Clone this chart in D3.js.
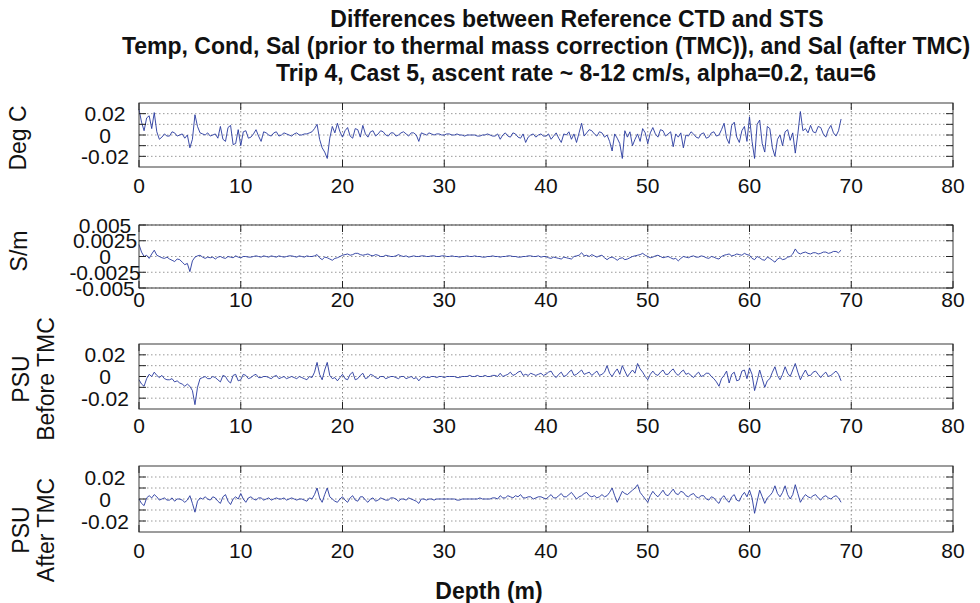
<!DOCTYPE html>
<html lang="en">

<head>
    <title>CTD vs STS differences</title>
    <meta charset="utf-8">
    <script src="https://d3js.org/d3.v7.min.js"></script>
    <style>
        body { margin: 0; background: #fff; }
        svg { display: block; font-family: "Liberation Sans", Arial, sans-serif; }
    </style>
</head>

<body>
    <div id="container1"></div>
    <script>
        // Data (every 0.25 m)
        const depth = [
            0, 0.25, 0.5, 0.75, 1, 1.25, 1.5, 1.75, 2, 2.25, 2.5, 2.75, 3, 3.25, 3.5, 3.75, 4, 4.25, 4.5, 4.75,
            5, 5.25, 5.5, 5.75, 6, 6.25, 6.5, 6.75, 7, 7.25, 7.5, 7.75, 8, 8.25, 8.5, 8.75, 9, 9.25, 9.5, 9.75,
            10, 10.25, 10.5, 10.75, 11, 11.25, 11.5, 11.75, 12, 12.25, 12.5, 12.75, 13, 13.25, 13.5, 13.75, 14, 14.25, 14.5, 14.75,
            15, 15.25, 15.5, 15.75, 16, 16.25, 16.5, 16.75, 17, 17.25, 17.5, 17.75, 18, 18.25, 18.5, 18.75, 19, 19.25, 19.5, 19.75,
            20, 20.25, 20.5, 20.75, 21, 21.25, 21.5, 21.75, 22, 22.25, 22.5, 22.75, 23, 23.25, 23.5, 23.75, 24, 24.25, 24.5, 24.75,
            25, 25.25, 25.5, 25.75, 26, 26.25, 26.5, 26.75, 27, 27.25, 27.5, 27.75, 28, 28.25, 28.5, 28.75, 29, 29.25, 29.5, 29.75,
            30, 30.25, 30.5, 30.75, 31, 31.25, 31.5, 31.75, 32, 32.25, 32.5, 32.75, 33, 33.25, 33.5, 33.75, 34, 34.25, 34.5, 34.75,
            35, 35.25, 35.5, 35.75, 36, 36.25, 36.5, 36.75, 37, 37.25, 37.5, 37.75, 38, 38.25, 38.5, 38.75, 39, 39.25, 39.5, 39.75,
            40, 40.25, 40.5, 40.75, 41, 41.25, 41.5, 41.75, 42, 42.25, 42.5, 42.75, 43, 43.25, 43.5, 43.75, 44, 44.25, 44.5, 44.75,
            45, 45.25, 45.5, 45.75, 46, 46.25, 46.5, 46.75, 47, 47.25, 47.5, 47.75, 48, 48.25, 48.5, 48.75, 49, 49.25, 49.5, 49.75,
            50, 50.25, 50.5, 50.75, 51, 51.25, 51.5, 51.75, 52, 52.25, 52.5, 52.75, 53, 53.25, 53.5, 53.75, 54, 54.25, 54.5, 54.75,
            55, 55.25, 55.5, 55.75, 56, 56.25, 56.5, 56.75, 57, 57.25, 57.5, 57.75, 58, 58.25, 58.5, 58.75, 59, 59.25, 59.5, 59.75,
            60, 60.25, 60.5, 60.75, 61, 61.25, 61.5, 61.75, 62, 62.25, 62.5, 62.75, 63, 63.25, 63.5, 63.75, 64, 64.25, 64.5, 64.75,
            65, 65.25, 65.5, 65.75, 66, 66.25, 66.5, 66.75, 67, 67.25, 67.5, 67.75, 68, 68.25, 68.5, 68.75, 69
        ];

        const tempDiff = [
            0.024, 0.012, 0.004, 0.016, 0.018, 0.006, 0.021, 0.003, -0.004, -0.002, 0.001, -0.001, -0.001, 0.003, 0.002, -0.001, 0.000, 0.001, -0.003, 0.000,
            -0.012, -0.004, 0.019, 0.008, 0.002, 0.001, 0.000, 0.002, -0.001, 0.000, 0.001, -0.003, 0.008, -0.004, -0.006, 0.007, 0.009, -0.009, -0.008, 0.005,
            -0.010, 0.003, 0.004, -0.003, -0.002, 0.001, 0.005, -0.001, -0.006, 0.003, 0.002, 0.000, -0.001, 0.002, 0.003, -0.001, 0.000, 0.002, 0.001, 0.000,
            -0.001, 0.001, 0.002, 0.000, 0.000, 0.001, 0.001, 0.002, 0.003, 0.006, 0.010, -0.004, -0.012, -0.016, -0.022, -0.003, 0.008, 0.002, 0.011, 0.003,
            -0.002, 0.004, 0.007, -0.001, -0.003, 0.006, 0.005, -0.002, 0.009, 0.001, -0.002, 0.003, 0.004, -0.001, 0.001, 0.004, 0.003, 0.000, -0.001, 0.002,
            0.002, -0.001, 0.000, 0.002, 0.003, 0.001, -0.001, 0.002, 0.002, 0.000, -0.006, 0.002, 0.001, 0.000, 0.002, 0.001, 0.000, 0.001, 0.001, 0.000,
            0.000, 0.001, 0.001, 0.000, 0.000, 0.001, 0.000, 0.000, -0.001, 0.000, 0.000, 0.000, 0.000, -0.001, -0.001, 0.000, 0.000, 0.001, 0.000, -0.001,
            -0.001, 0.001, -0.004, 0.000, 0.002, -0.001, -0.002, 0.002, 0.001, -0.002, -0.003, 0.001, -0.007, -0.002, 0.000, 0.001, -0.002, 0.000, 0.001, -0.001,
            -0.001, 0.001, -0.004, -0.001, 0.002, -0.003, -0.007, 0.001, 0.000, 0.003, -0.004, 0.001, -0.007, 0.002, 0.011, -0.001, 0.002, 0.005, 0.004, 0.001,
            -0.001, 0.003, 0.002, -0.002, 0.000, -0.006, -0.015, 0.001, -0.003, -0.008, -0.022, 0.004, -0.002, 0.003, -0.010, -0.004, 0.001, -0.006, 0.006, 0.002,
            -0.008, 0.002, 0.007, 0.001, -0.002, 0.005, 0.004, -0.001, 0.001, 0.003, -0.011, 0.001, -0.002, 0.002, -0.012, 0.000, -0.001, 0.003, 0.001, -0.002,
            -0.003, 0.001, 0.002, -0.003, -0.002, 0.002, 0.003, -0.001, 0.000, 0.005, 0.011, -0.003, -0.008, 0.009, 0.012, -0.002, -0.007, 0.004, 0.008, -0.006,
            0.017, -0.006, -0.022, 0.010, 0.014, -0.008, -0.016, 0.008, 0.006, -0.012, -0.020, -0.004, 0.000, -0.010, 0.003, 0.005, -0.005, 0.002, -0.017, 0.001,
            0.022, 0.004, 0.006, 0.002, 0.009, 0.003, 0.002, 0.008, 0.007, 0.001, -0.002, 0.005, 0.009, 0.002, -0.001, 0.004, 0.015
        ];

        const condDiff = [
            0.0019, 0.0007, 0.0000, 0.0002, -0.0003, 0.0004, 0.0010, 0.0002, 0.0000, -0.0002, -0.0003, -0.0001, -0.0004, -0.0006, -0.0008, -0.0004, -0.0005, -0.0009, -0.0013, -0.0011,
            -0.0024, -0.0007, -0.0001, 0.0001, 0.0002, -0.0001, -0.0003, -0.0001, -0.0002, -0.0001, -0.0004, -0.0001, 0.0000, -0.0002, -0.0003, 0.0000, -0.0001, -0.0002, 0.0001, -0.0001,
            -0.0002, 0.0000, 0.0000, -0.0001, -0.0001, 0.0000, 0.0001, 0.0000, -0.0001, 0.0001, 0.0000, -0.0001, 0.0001, 0.0000, -0.0001, 0.0001, 0.0000, -0.0001, 0.0000, 0.0001,
            0.0001, 0.0000, -0.0001, 0.0001, 0.0000, -0.0001, 0.0001, 0.0000, 0.0000, 0.0001, 0.0003, -0.0002, -0.0005, -0.0001, -0.0002, -0.0004, -0.0006, -0.0003, -0.0002, 0.0000,
            0.0002, 0.0003, 0.0004, 0.0002, 0.0003, 0.0005, 0.0005, 0.0003, 0.0002, 0.0003, 0.0004, 0.0002, 0.0001, 0.0003, 0.0002, 0.0000, 0.0000, 0.0002, 0.0001, 0.0000,
            0.0000, 0.0001, 0.0003, 0.0001, 0.0000, 0.0001, -0.0001, 0.0000, 0.0001, 0.0000, 0.0000, 0.0001, 0.0001, 0.0000, 0.0000, 0.0001, 0.0001, 0.0000, 0.0000, 0.0001,
            0.0001, 0.0000, 0.0000, 0.0001, 0.0000, 0.0000, -0.0001, 0.0000, 0.0000, 0.0001, 0.0000, 0.0000, 0.0001, 0.0000, 0.0000, -0.0001, -0.0001, 0.0000, 0.0000, 0.0001,
            0.0000, 0.0000, -0.0001, 0.0000, 0.0000, 0.0001, 0.0001, 0.0000, 0.0000, -0.0001, -0.0001, 0.0000, 0.0000, 0.0001, 0.0001, 0.0000, 0.0000, 0.0001, -0.0001, 0.0000,
            0.0000, -0.0002, -0.0003, -0.0001, -0.0002, -0.0003, -0.0004, -0.0001, -0.0002, -0.0003, -0.0004, 0.0000, 0.0001, 0.0002, 0.0006, 0.0001, 0.0002, 0.0000, 0.0003, 0.0001,
            -0.0001, 0.0001, 0.0002, -0.0002, -0.0005, -0.0002, -0.0001, -0.0003, -0.0006, -0.0003, -0.0002, -0.0005, -0.0004, -0.0002, 0.0000, 0.0001, 0.0002, 0.0003, 0.0005, 0.0002,
            0.0000, -0.0002, -0.0001, 0.0001, 0.0002, 0.0000, -0.0002, -0.0001, 0.0000, -0.0002, -0.0004, -0.0003, -0.0007, -0.0003, 0.0000, -0.0001, -0.0002, 0.0000, 0.0001, -0.0001,
            -0.0001, 0.0001, 0.0000, -0.0002, -0.0003, 0.0000, -0.0001, -0.0003, -0.0004, 0.0000, 0.0002, 0.0003, 0.0004, 0.0001, 0.0002, 0.0004, 0.0003, 0.0002, 0.0005, 0.0003,
            0.0002, -0.0003, -0.0005, 0.0000, -0.0002, -0.0005, -0.0006, -0.0001, -0.0003, -0.0006, -0.0009, -0.0004, -0.0002, -0.0005, -0.0004, -0.0001, 0.0000, 0.0004, 0.0012, 0.0006,
            0.0004, 0.0006, 0.0007, 0.0005, 0.0004, 0.0006, 0.0006, 0.0004, 0.0005, 0.0007, 0.0007, 0.0005, 0.0006, 0.0008, 0.0008, 0.0006, 0.0010
        ];

        const salBeforeTMC = [
            -0.003, -0.007, -0.009, -0.002, 0.002, 0.000, 0.004, 0.001, -0.001, 0.001, -0.002, -0.003, -0.003, -0.002, -0.005, -0.004, -0.006, -0.007, -0.009, -0.007,
            -0.009, -0.013, -0.026, -0.010, -0.002, -0.001, 0.000, -0.002, -0.002, 0.000, -0.001, -0.003, -0.005, 0.001, 0.000, -0.004, -0.006, 0.001, 0.002, -0.004,
            -0.003, 0.002, 0.001, -0.002, -0.001, 0.001, 0.002, -0.001, -0.001, 0.000, 0.000, -0.001, -0.002, 0.000, 0.001, -0.002, -0.001, 0.000, -0.002, -0.001,
            0.000, -0.001, -0.002, 0.000, -0.001, -0.002, -0.003, 0.000, -0.001, 0.004, 0.013, 0.002, -0.003, 0.006, 0.013, 0.001, -0.002, -0.001, -0.004, -0.001,
            0.002, -0.002, -0.003, 0.002, 0.004, -0.003, -0.002, 0.001, 0.003, -0.002, -0.001, 0.002, 0.001, -0.001, -0.002, 0.000, 0.000, -0.002, -0.001, 0.000,
            0.000, -0.001, -0.002, 0.000, 0.000, -0.002, -0.001, 0.000, -0.002, -0.001, -0.004, -0.001, 0.000, -0.001, -0.001, 0.000, 0.000, -0.001, 0.000, 0.000,
            -0.001, 0.000, 0.000, 0.000, 0.000, -0.001, -0.001, 0.000, 0.000, 0.000, 0.001, 0.000, 0.000, 0.001, 0.000, 0.000, 0.001, 0.000, 0.000, 0.001,
            0.001, 0.000, 0.003, 0.000, 0.001, 0.002, 0.004, 0.001, 0.002, 0.004, 0.005, 0.001, 0.002, 0.001, 0.003, 0.002, 0.001, 0.002, 0.003, 0.001,
            0.002, 0.004, 0.005, 0.001, -0.001, 0.002, 0.004, 0.000, 0.001, 0.004, 0.006, 0.001, 0.002, 0.004, 0.006, 0.002, 0.003, 0.004, 0.001, 0.003,
            0.005, 0.001, 0.002, 0.004, 0.010, 0.003, 0.000, 0.004, 0.007, 0.002, 0.010, 0.005, 0.000, 0.003, 0.006, 0.003, 0.012, 0.007, 0.004, 0.000,
            -0.003, 0.002, 0.005, 0.002, 0.001, 0.004, 0.006, 0.002, 0.002, 0.005, 0.007, 0.003, 0.001, 0.004, 0.006, 0.002, 0.003, 0.001, -0.001, 0.002,
            0.004, 0.000, 0.001, 0.003, 0.003, 0.000, -0.002, -0.005, -0.009, -0.002, 0.001, 0.005, -0.006, 0.002, 0.004, -0.004, -0.003, 0.005, 0.006, -0.002,
            0.008, 0.002, -0.013, -0.004, 0.006, -0.002, -0.010, -0.004, -0.002, 0.004, 0.009, 0.001, -0.003, 0.002, 0.009, 0.003, 0.000, 0.006, 0.012, 0.004,
            -0.003, 0.002, 0.006, 0.001, 0.001, 0.004, 0.005, 0.002, -0.001, 0.002, 0.004, 0.000, 0.001, 0.003, 0.005, 0.002, -0.004
        ];

        const salAfterTMC = [
            0.000, -0.004, -0.006, 0.001, 0.003, 0.001, 0.004, 0.002, -0.001, 0.000, 0.001, -0.001, -0.001, 0.001, -0.002, 0.000, 0.000, -0.001, -0.003, -0.001,
            0.003, -0.004, -0.012, -0.002, 0.001, 0.000, 0.002, 0.000, -0.001, 0.002, 0.001, -0.002, -0.004, 0.002, 0.004, -0.002, -0.005, 0.000, 0.002, 0.000,
            0.005, 0.000, -0.003, 0.001, 0.002, 0.000, -0.001, 0.001, 0.001, -0.001, 0.000, 0.001, -0.001, 0.000, 0.001, 0.000, 0.000, 0.001, -0.001, 0.000,
            0.001, 0.000, -0.001, 0.000, 0.000, -0.001, -0.002, 0.001, 0.000, 0.004, 0.010, 0.001, -0.003, 0.004, 0.010, 0.002, 0.000, -0.002, -0.003, 0.000,
            0.002, -0.001, -0.003, 0.001, 0.003, -0.001, -0.002, 0.002, 0.002, -0.001, -0.003, 0.000, 0.001, -0.002, -0.001, 0.001, 0.000, -0.001, -0.001, 0.001,
            0.001, 0.000, -0.002, 0.000, 0.000, -0.001, 0.001, 0.000, -0.001, -0.002, -0.004, 0.000, 0.000, -0.001, 0.000, 0.000, -0.001, 0.000, 0.000, 0.000,
            0.000, 0.000, 0.000, 0.000, 0.000, -0.001, -0.001, 0.000, 0.000, 0.000, 0.000, 0.000, 0.000, 0.000, 0.001, 0.000, 0.000, 0.000, 0.000, 0.001,
            0.001, 0.000, 0.003, 0.001, 0.001, 0.003, 0.002, 0.001, 0.003, 0.002, 0.004, 0.001, 0.001, 0.002, 0.002, 0.000, 0.001, 0.002, 0.002, 0.001,
            0.000, 0.002, 0.004, 0.001, 0.001, 0.003, 0.005, 0.002, 0.002, 0.004, 0.006, 0.003, 0.000, 0.002, 0.003, 0.005, 0.006, 0.003, 0.002, 0.003,
            0.001, 0.002, 0.004, 0.002, 0.003, 0.006, 0.010, 0.003, -0.003, 0.002, 0.007, 0.005, 0.004, 0.006, 0.008, 0.010, 0.013, 0.006, 0.003, 0.000,
            -0.003, 0.003, 0.007, 0.004, 0.002, 0.005, 0.008, 0.004, 0.003, 0.006, 0.009, 0.005, 0.004, 0.007, 0.006, 0.003, 0.002, 0.004, 0.005, 0.002,
            0.001, 0.003, 0.003, 0.000, -0.001, 0.002, 0.001, -0.002, -0.004, 0.001, 0.003, -0.001, -0.003, 0.002, 0.004, -0.001, -0.002, 0.003, 0.006, 0.002,
            0.008, 0.001, -0.013, -0.002, 0.008, 0.002, -0.004, 0.001, 0.003, 0.006, 0.012, 0.005, 0.002, 0.006, 0.012, 0.004, 0.000, 0.004, 0.013, 0.005,
            -0.003, 0.001, 0.004, 0.002, 0.001, 0.003, 0.004, 0.001, -0.001, 0.002, 0.003, 0.001, 0.000, 0.002, 0.003, 0.001, -0.003
        ];

        // Ticks and labels
        const xTicks = [0, 10, 20, 30, 40, 50, 60, 70, 80];
        const psuTicks = [-0.02, -0.01, 0, 0.01, 0.02];
        const psuTickLabels = ["-0.02", "", "0", "", "0.02"];
        const condTicks = [-0.005, -0.0025, 0, 0.0025, 0.005];
        const condTickLabels = ["-0.005", "-0.0025", "0", "0.0025", "0.005"];
        const titleLines = [
            "Differences between Reference CTD and STS",
            "Temp, Cond, Sal (prior to thermal mass correction (TMC)), and Sal (after TMC)",
            "Trip 4, Cast 5, ascent rate ~ 8-12 cm/s, alpha=0.2, tau=6"
        ];
        const xLabel = "Depth (m)";

        // Panel layout
        const panels = [
            { values: tempDiff, domain: [-0.03, 0.03], ticks: psuTicks, tickLabels: psuTickLabels,
              top: 103, bottom: 167, xLabelBase: 193, yLabel: ["Deg C"], yLabelX: [26], yLabelY: 138 },
            { values: condDiff, domain: [-0.005, 0.005], ticks: condTicks, tickLabels: condTickLabels,
              top: 225, bottom: 288, xLabelBase: 307, yLabel: ["S/m"], yLabelX: [27], yLabelY: 251 },
            { values: salBeforeTMC, domain: [-0.03, 0.03], ticks: psuTicks, tickLabels: psuTickLabels,
              top: 344, bottom: 409, xLabelBase: 433, yLabel: ["PSU", "Before TMC"], yLabelX: [29, 54], yLabelY: 379 },
            { values: salAfterTMC, domain: [-0.03, 0.03], ticks: psuTicks, tickLabels: psuTickLabels,
              top: 466, bottom: 532, xLabelBase: 558, yLabel: ["PSU", "After TMC"], yLabelX: [29, 54], yLabelY: 530 }
        ];

        // Chart dimensions
        const width = 980;
        const height = 603;
        const plotLeft = 139;
        const plotRight = 953;
        const tickLen = 7;

        const svg = d3.select("#container1")
            .append("svg")
            .attr("width", width)
            .attr("height", height);

        svg.append("rect")
            .attr("width", width)
            .attr("height", height)
            .attr("fill", "#fff");

        const xScale = d3.scaleLinear()
            .domain([0, 80])
            .range([plotLeft, plotRight]);

        panels.forEach(p => {
            const yScale = d3.scaleLinear()
                .domain(p.domain)
                .range([p.bottom, p.top]);

            const g = svg.append("g");

            // Grid
            g.selectAll(".hgrid")
                .data(p.ticks)
                .join("line")
                .attr("x1", plotLeft)
                .attr("x2", plotRight)
                .attr("y1", d => yScale(d))
                .attr("y2", d => yScale(d))
                .attr("stroke", "#999")
                .attr("stroke-width", 1)
                .attr("stroke-dasharray", "1.5,2.5");

            g.selectAll(".vgrid")
                .data(xTicks.slice(1, -1))
                .join("line")
                .attr("x1", d => xScale(d))
                .attr("x2", d => xScale(d))
                .attr("y1", p.top)
                .attr("y2", p.bottom)
                .attr("stroke", "#888")
                .attr("stroke-width", 1)
                .attr("stroke-dasharray", "1.5,2.5");

            // Data line
            const line = d3.line()
                .x((d, i) => xScale(depth[i]))
                .y(d => yScale(d));

            g.append("path")
                .datum(p.values)
                .attr("fill", "none")
                .attr("stroke", "#26389e")
                .attr("stroke-width", 0.9)
                .attr("d", line);

            // Box
            g.append("rect")
                .attr("x", plotLeft)
                .attr("y", p.top)
                .attr("width", plotRight - plotLeft)
                .attr("height", p.bottom - p.top)
                .attr("fill", "none")
                .attr("stroke", "#3a3a3a")
                .attr("stroke-width", 1);

            // Tick marks (inward, all sides)
            xTicks.forEach(t => {
                g.append("line")
                    .attr("x1", xScale(t)).attr("x2", xScale(t))
                    .attr("y1", p.bottom).attr("y2", p.bottom - tickLen)
                    .attr("stroke", "#222");
                g.append("line")
                    .attr("x1", xScale(t)).attr("x2", xScale(t))
                    .attr("y1", p.top).attr("y2", p.top + tickLen)
                    .attr("stroke", "#222");
            });
            p.ticks.forEach(t => {
                g.append("line")
                    .attr("x1", plotLeft).attr("x2", plotLeft + tickLen)
                    .attr("y1", yScale(t)).attr("y2", yScale(t))
                    .attr("stroke", "#222");
                g.append("line")
                    .attr("x1", plotRight).attr("x2", plotRight - tickLen)
                    .attr("y1", yScale(t)).attr("y2", yScale(t))
                    .attr("stroke", "#222");
            });

            // Tick labels
            g.selectAll(".xlab")
                .data(xTicks)
                .join("text")
                .attr("x", d => xScale(d))
                .attr("y", p.xLabelBase)
                .attr("text-anchor", "middle")
                .style("font-size", "21px")
                .style("fill", "#111")
                .text(d => d);

            g.selectAll(".ylab")
                .data(p.ticks)
                .join("text")
                .attr("x", 105)
                .attr("y", d => yScale(d) + 7.5)
                .attr("text-anchor", "middle")
                .style("font-size", "21px")
                .style("fill", "#111")
                .text((d, i) => p.tickLabels[i]);

            // Y axis label
            p.yLabel.forEach((txt, i) => {
                g.append("text")
                    .attr("transform", `translate(${p.yLabelX[i]},${p.yLabelY}) rotate(-90)`)
                    .attr("text-anchor", "middle")
                    .style("font-size", "23px")
                    .style("fill", "#111")
                    .text(txt);
            });
        });

        // Title
        const titleX = [577, 546, 576];
        svg.selectAll(".title")
            .data(titleLines)
            .join("text")
            .attr("x", (d, i) => titleX[i])
            .attr("y", (d, i) => 27 + i * 27)
            .attr("text-anchor", "middle")
            .style("font-size", "23px")
            .style("font-weight", "bold")
            .style("fill", "#111")
            .text(d => d);

        // X axis label
        svg.append("text")
            .attr("x", 489)
            .attr("y", 599)
            .attr("text-anchor", "middle")
            .style("font-size", "23px")
            .style("font-weight", "bold")
            .style("fill", "#111")
            .text(xLabel);
    </script>
</body>

</html>
